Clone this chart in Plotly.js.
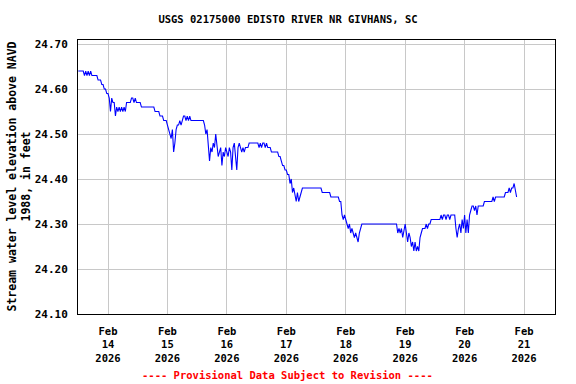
<!DOCTYPE html>
<html>
<head>
<meta charset="utf-8">
<script src="https://cdn.plot.ly/plotly-3.0.1.min.js"></script>
<style>html,body{margin:0;padding:0;background:#fff}#chart{width:576px;height:384px}</style>
</head>
<body>
<div id="chart"></div>
<script>
// Series: gage height (ft above NAVD 1988), half-hourly readings starting 2026-02-13 12:00
const seriesStart = "2026-02-13T12:00:00Z";
const stepMinutes = 30;
const stage = [
  24.64,24.64,24.64,24.64,24.64,24.63,24.64,24.63,24.64,24.63,24.64,24.63,
  24.63,24.63,24.63,24.63,24.62,24.62,24.62,24.61,24.61,24.60,24.60,24.59,
  24.59,24.58,24.55,24.58,24.57,24.57,24.54,24.56,24.55,24.56,24.55,24.56,
  24.55,24.56,24.55,24.57,24.57,24.57,24.57,24.58,24.58,24.57,24.58,24.57,
  24.57,24.57,24.57,24.56,24.56,24.56,24.56,24.56,24.56,24.56,24.56,24.56,
  24.56,24.56,24.55,24.55,24.55,24.55,24.54,24.54,24.54,24.53,24.53,24.53,
  24.52,24.51,24.50,24.49,24.51,24.46,24.48,24.51,24.52,24.52,24.53,24.52,
  24.53,24.54,24.54,24.53,24.54,24.53,24.54,24.53,24.53,24.53,24.53,24.53,
  24.53,24.53,24.53,24.53,24.53,24.53,24.52,24.50,24.51,24.48,24.44,24.47,
  24.46,24.48,24.47,24.50,24.47,24.45,24.46,24.47,24.43,24.46,24.45,24.47,
  24.46,24.45,24.47,24.46,24.42,24.47,24.48,24.45,24.42,24.47,24.48,24.47,
  24.46,24.47,24.46,24.47,24.47,24.47,24.48,24.48,24.48,24.48,24.48,24.48,
  24.48,24.48,24.47,24.48,24.47,24.48,24.48,24.47,24.48,24.47,24.47,24.47,
  24.46,24.46,24.46,24.46,24.46,24.46,24.45,24.45,24.44,24.43,24.43,24.42,
  24.42,24.41,24.41,24.39,24.40,24.37,24.38,24.36,24.35,24.37,24.35,24.36,
  24.37,24.38,24.38,24.38,24.38,24.38,24.38,24.38,24.38,24.38,24.38,24.38,
  24.38,24.38,24.38,24.38,24.38,24.37,24.37,24.37,24.37,24.37,24.37,24.37,
  24.36,24.36,24.36,24.36,24.36,24.36,24.36,24.35,24.35,24.32,24.31,24.32,
  24.31,24.30,24.29,24.30,24.28,24.29,24.28,24.27,24.28,24.27,24.26,24.28,
  24.29,24.30,24.30,24.30,24.30,24.30,24.30,24.30,24.30,24.30,24.30,24.30,
  24.30,24.30,24.30,24.30,24.30,24.30,24.30,24.30,24.30,24.30,24.30,24.30,
  24.30,24.30,24.30,24.30,24.30,24.30,24.28,24.29,24.28,24.29,24.27,24.29,
  24.30,24.28,24.26,24.28,24.27,24.25,24.26,24.24,24.26,24.24,24.25,24.24,
  24.27,24.28,24.29,24.29,24.29,24.30,24.29,24.30,24.30,24.31,24.31,24.31,
  24.31,24.31,24.31,24.31,24.31,24.32,24.31,24.32,24.32,24.31,24.32,24.32,
  24.31,24.32,24.32,24.32,24.32,24.29,24.27,24.29,24.30,24.28,24.31,24.29,
  24.32,24.28,24.31,24.28,24.32,24.33,24.34,24.34,24.33,24.34,24.32,24.34,
  24.34,24.34,24.34,24.34,24.35,24.35,24.35,24.35,24.35,24.35,24.35,24.36,
  24.35,24.36,24.36,24.36,24.36,24.36,24.36,24.36,24.36,24.37,24.37,24.37,
  24.38,24.37,24.38,24.38,24.39,24.37,24.36
];

// Axis ticks
const xTickDates = ["2026-02-14","2026-02-15","2026-02-16","2026-02-17","2026-02-18","2026-02-19","2026-02-20","2026-02-21"];
const xTickLabels = ["Feb<br>14<br>2026","Feb<br>15<br>2026","Feb<br>16<br>2026","Feb<br>17<br>2026","Feb<br>18<br>2026","Feb<br>19<br>2026","Feb<br>20<br>2026","Feb<br>21<br>2026"];
const yTickVals = [24.10,24.20,24.30,24.40,24.50,24.60,24.70];
const yTickLabels = ["24.10","24.20","24.30","24.40","24.50","24.60","24.70"];

const titleText = "USGS 02175000 EDISTO RIVER NR GIVHANS, SC";
const yTitleText = "Stream water level elevation above NAVD<br>1988, in feet";
const footerText = "---- Provisional Data Subject to Revision ----";

function pad(n){return (n<10?"0":"")+n;}
const t0 = Date.parse(seriesStart);
const times = stage.map((_, i) => {
  const d = new Date(t0 + i*stepMinutes*60000);
  return d.getUTCFullYear()+"-"+pad(d.getUTCMonth()+1)+"-"+pad(d.getUTCDate())+" "+pad(d.getUTCHours())+":"+pad(d.getUTCMinutes());
});

const FONT = "DejaVu Sans Mono, monospace";

const trace = {
  x: times, y: stage, type: "scatter", mode: "lines",
  line: {color: "#0000ff", width: 1.1, shape: "linear"},
  hoverinfo: "skip", showlegend: false
};

const layout = {
  width: 576, height: 384,
  margin: {l: 78, r: 21, t: 40, b: 70, pad: 0},
  paper_bgcolor: "#ffffff", plot_bgcolor: "#ffffff",
  font: {family: FONT, size: 10.5, color: "#000", weight: 700},
  title: {text: titleText, x: 0.5, xref: "container", xanchor: "center",
          y: 1 - 19/384, yref: "container", yanchor: "middle",
          font: {family: FONT, size: 10.5, color: "#000", weight: 700}},
  xaxis: {
    type: "date",
    range: ["2026-02-13 11:53", "2026-02-21 12:30"],
    tickmode: "array", tickvals: xTickDates, ticktext: xTickLabels,
    ticks: "", showgrid: true, gridcolor: "#c8c8c8", gridwidth: 1,
    showline: true, linecolor: "#000", linewidth: 1, mirror: true,
    zeroline: false, ticklabelstandoff: 7,
    tickfont: {family: FONT, size: 10.5, color: "#000", weight: 700}
  },
  yaxis: {
    range: [24.10, 24.709],
    tickmode: "array", tickvals: yTickVals, ticktext: yTickLabels,
    ticks: "", showgrid: true, gridcolor: "#c8c8c8", gridwidth: 1,
    showline: true, linecolor: "#000", linewidth: 1, mirror: true,
    zeroline: false, ticklabelstandoff: 7,
    tickfont: {family: FONT, size: 11, color: "#000", weight: 700}
  },
  annotations: [
    {text: yTitleText, textangle: -90, xref: "paper", yref: "paper",
     x: 0, y: 0.5, xanchor: "center", yanchor: "middle", xshift: -59.5,
     showarrow: false, align: "center",
     font: {family: FONT, size: 11.5, color: "#000", weight: 700}},
    {text: footerText, xref: "paper", yref: "paper", x: (287-78)/477, y: 0,
     yshift: -(375-314), xanchor: "center", yanchor: "middle", showarrow: false,
     font: {family: FONT, size: 10.5, color: "#ff0000", weight: 700}}
  ]
};

Plotly.newPlot("chart", [trace], layout, {displayModeBar: false, staticPlot: true});
</script>
</body>
</html>
